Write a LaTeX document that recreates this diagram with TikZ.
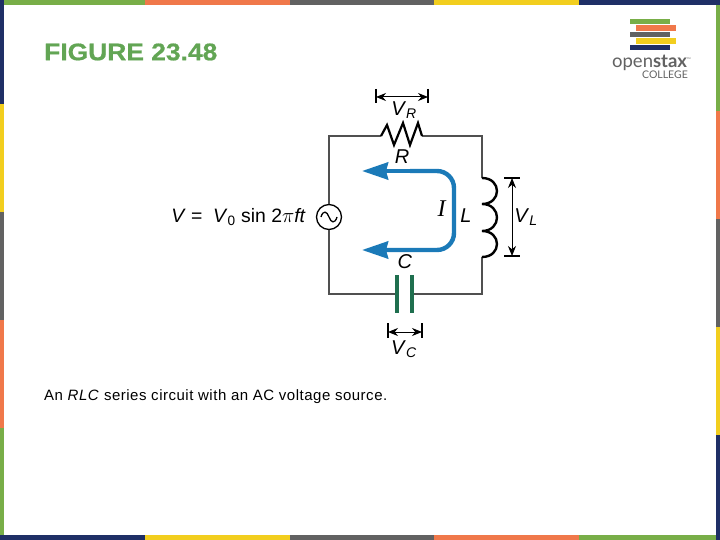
\documentclass[tikz,border=0pt]{standalone}
\usepackage{fontspec}
\setmainfont{Liberation Sans}
\newfontfamily\serifi{Liberation Serif}
\newfontfamily\logofont{Lato}
\newfontfamily\titlefont[UprightFont=* Bold,FakeBold=0.7]{Liberation Sans}
\usetikzlibrary{calc}
\usetikzlibrary{positioning}
\usetikzlibrary{arrows.meta}

\definecolor{barnavy}{HTML}{1F2F66}
\definecolor{barblue}{HTML}{1B7AB8}
\definecolor{bargreen}{HTML}{78AE48}
\definecolor{barorange}{HTML}{F0784A}
\definecolor{bargrey}{HTML}{626262}
\definecolor{baryellow}{HTML}{F2CE1E}
\definecolor{titlegreen}{HTML}{62A554}
\definecolor{capgreen}{HTML}{1F6F4F}
\definecolor{wiregrey}{HTML}{505050}

\newcommand{\sized}[1]{\fontsize{#1}{#1}\selectfont}
\newcommand{\volt}[1]{\textit{V}\textsubscript{#1}}

\begin{document}
\begin{tikzpicture}[%
  x=1pt, y=-1pt,
  >={Stealth[length=10pt,width=8pt]},
  wire/.style={draw=wiregrey,line width=1.5pt},
  coil/.style={draw=black,line width=2.4pt},
  plate/.style={draw=capgreen,line width=4pt},
  current/.style={draw=barblue,line width=4.4pt,rounded corners=17pt,
    -{Stealth[length=26pt,width=17pt,inset=2pt]}},
  dimline/.style={draw=black,line width=1pt,<->},
  dimtick/.style={draw=black,line width=1.2pt},
  lab/.style={inner sep=0pt,font=\sized{20}},
]

  \useasboundingbox (0,0) rectangle (720,540);
  \fill[white] (0,0) rectangle (720,540);

  % frame
  \fill[bargreen] (4,0) rectangle (145,5);
  \fill[barorange] (145,0) rectangle (290,5);
  \fill[bargrey] (290,0) rectangle (434,5);
  \fill[baryellow] (434,0) rectangle (579,5);
  \fill[barnavy] (579,0) rectangle (720,5);

  \fill[barnavy] (0,535) rectangle (145,540);
  \fill[baryellow] (145,535) rectangle (290,540);
  \fill[bargrey] (290,535) rectangle (434,540);
  \fill[barorange] (434,535) rectangle (579,540);
  \fill[bargreen] (579,535) rectangle (716,540);

  \fill[barnavy] (0,0) rectangle (4,104);
  \fill[baryellow] (0,104) rectangle (4,212);
  \fill[bargrey] (0,212) rectangle (4,320);
  \fill[barorange] (0,320) rectangle (4,428);
  \fill[bargreen] (0,428) rectangle (4,535);

  \fill[bargreen] (716,5) rectangle (720,111);
  \fill[barorange] (716,111) rectangle (720,219);
  \fill[bargrey] (716,219) rectangle (720,327);
  \fill[baryellow] (716,327) rectangle (720,435);
  \fill[barnavy] (716,435) rectangle (720,540);

  % logo
  \fill[bargreen] (630,19) rectangle (669.5,24);
  \fill[barorange] (636,25.5) rectangle (676,31);
  \fill[bargrey] (630,32) rectangle (669.5,37);
  \fill[baryellow] (636,38) rectangle (676,44);
  \fill[barnavy] (630,45) rectangle (669.5,50);
  \node[inner sep=0pt,text=bargrey,font=\logofont\sized{18.5}] (logoname) at (651.5,62.5)
    {open\textbf{stax}\raisebox{6pt}{\sized{5}™}};
  \node[inner sep=0pt,text=bargrey,font=\logofont\sized{10.5}] (logocollege) at (665,75) {COLLEGE};

  \node[inner sep=0pt,anchor=west,text=titlegreen,xscale=1.1,font=\titlefont\sized{24}] (title) at (44,52) {FIGURE 23.48};
  \node[inner sep=0pt,anchor=west,font=\addfontfeature{LetterSpace=3.4}\sized{15}] (caption) at (44,397) {An \textit{RLC} series circuit with an AC voltage source.};

  % circuit corners
  \coordinate (NW) at (329,136);
  \coordinate (NE) at (482,136);
  \coordinate (SW) at (329,294);
  \coordinate (SE) at (482,294);
  \coordinate (R1) at (381,136);
  \coordinate (R2) at (422,136);
  \coordinate (L1) at (482,178);
  \coordinate (L2) at (482,204);
  \coordinate (L3) at (482,231);
  \coordinate (L4) at (482,257);
  \coordinate (C1) at (397,294);
  \coordinate (C2) at (412,294);

  \node[circle,draw=black,line width=1.3pt,minimum size=25pt,inner sep=0pt] (source) at (329,217) {};

  \draw[wire] (source) -- (NW) -- (R1);
  \draw[wire] (R2) -- (NE) -- (L1);
  \draw[wire] (L4) -- (SE) -- (C2);
  \draw[wire] (C1) -- (SW) -- (source);

  % sine inside the source
  \draw[line width=1.3pt] ($(source.center)+(-8,0)$)
    .. controls +(2,-7) and +(-2,-6) .. (source.center)
    .. controls +(2,6) and +(-2,7) .. ($(source.center)+(8,0)$);

  % resistor
  \draw[draw=black,line width=2.2pt,line join=miter] (R1) -- ++(6,-11) -- ++(7,20) -- ++(9,-22)
    -- ++(7,22) -- ++(8,-22) -- (R2);

  % inductor
  \draw[coil] (L1) .. controls ++(20,0) and ++(20,0) .. (L2)
    .. controls ++(20,0) and ++(20,0) .. (L3)
    .. controls ++(20,0) and ++(20,0) .. (L4);

  % capacitor
  \draw[plate] ($(C1)+(0,-19)$) -- ($(C1)+(0,19)$);
  \draw[plate] ($(C2)+(0,-19)$) -- ($(C2)+(0,19)$);

  % current
  \coordinate (I1) at (410,171);
  \coordinate (I2) at (454,171);
  \coordinate (I3) at (454,250);
  \coordinate (I4) at (362,250);
  \draw[current] (I1) -- (362,171);
  \draw[current] (I1) -- (I2) -- (I3) -- (I4);

  % voltage marks
  \coordinate (VRa) at (376,97);
  \coordinate (VRb) at (428,97);
  \draw[dimline] (VRa) -- (VRb);
  \draw[dimtick] ($(VRa)+(0,-8)$) -- ($(VRa)+(0,6)$);
  \draw[dimtick] ($(VRb)+(0,-8)$) -- ($(VRb)+(0,6)$);

  \coordinate (VLa) at (512,178);
  \coordinate (VLb) at (512,256);
  \draw[dimline] (VLa) -- (VLb);
  \draw[dimtick] ($(VLa)+(-8,0)$) -- ($(VLa)+(8,0)$);
  \draw[dimtick] ($(VLb)+(-8,0)$) -- ($(VLb)+(8,0)$);

  \coordinate (VCa) at (388,332);
  \coordinate (VCb) at (422,332);
  \draw[dimline] (VCa) -- (VCb);
  \draw[dimtick] ($(VCa)+(0,-9)$) -- ($(VCa)+(0,6)$);
  \draw[dimtick] ($(VCb)+(0,-9)$) -- ($(VCb)+(0,6)$);

  % labels
  \node[lab,anchor=east,font=\sized{19.4}] (sourcelab) at (306,217) {\textit{V} = \ \volt{0} sin 2$\pi$\textit{ft}};
  \node[lab] (vrlab) at (404,110) {\volt{\textit{R}}};
  \node[lab] (rlab) at (402,157) {\textit{R}};
  \node[lab] (llab) at (466,216) {\textit{L}};
  \node[lab] (vllab) at (526,217) {\volt{\textit{L}}};
  \node[lab,font=\serifi\sized{24}] (ilab) at (442,209) {\textit{I}};
  \node[lab] (clab) at (405,262) {\textit{C}};
  \node[lab] (vclab) at (404,349) {\volt{\textit{C}}};

\end{tikzpicture}
\end{document}
